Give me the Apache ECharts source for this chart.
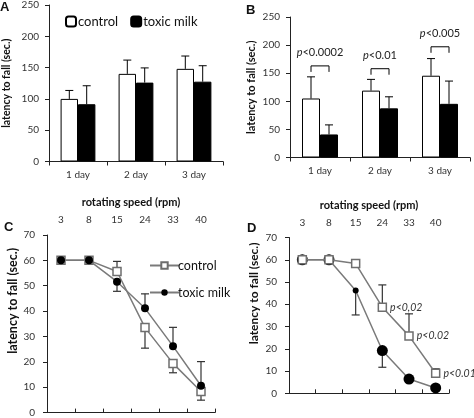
<!DOCTYPE html>
<html><head><meta charset="utf-8">
<script src="https://cdn.jsdelivr.net/npm/echarts@6/dist/echarts.min.js"></script>
<style>html,body{margin:0;padding:0;background:#fff}#c{width:474px;height:418px}</style>
</head><body><div id="c"></div>
<script>
// ---------- data ----------
const days = ['1 day', '2 day', '3 day'];
const ctrlA = [100, 140, 148];
const ctrlAErr = [113.5, 162, 168.5];
const toxA = [91.5, 126, 127.5];
const toxAErr = [121, 149.5, 153];

const ctrlB = [105, 119, 145.5];
const ctrlBErr = [143.5, 139, 176];
const toxB = [41, 87.5, 95.5];
const toxBErr = [58, 108, 136];
const pB = ['p<0.0002', 'p<0.01', 'p<0.005'];
const bracketB = [163, 158, 197];

const speeds = ['3', '8', '15', '24', '33', '40'];
const ctrlC = [60, 60, 55.6, 33.5, 19.4, 8.3];
const ctrlCErr = [null, null, 59.6, 25.4, 15.7, 4.9];
const toxC = [60, 60, 51.6, 41.1, 26.2, 10.6];
const toxCErr = [null, null, 47.8, 46.8, 33.6, 20.1];

const ctrlD = [60, 60, 58.3, 38.7, 25.8, 9];
const ctrlDErr = [null, null, null, 48.7, 35.7, 11];
const toxD = [60, 60, 46.2, 19.2, 6.4, 2.4];
const toxDErr = [null, null, 35.2, 11.7, null, null];
const pD = [null, null, null, 'p<0,02', 'p<0.02', 'p<0.01'];

const yTitle = 'latency to fall (sec.)';
const xTitle = 'rotating speed (rpm)';

// ---------- chart ----------
const FONT = 'Lato';
const chart = echarts.init(document.getElementById('c'), null, {renderer: 'canvas'});

function barErr(params, api) {
  const ci = api.value(0), v = api.value(1), e = api.value(2), side = api.value(3);
  const band = api.size([1, 0])[0];
  const c = api.coord([ci, v]);
  const ce = api.coord([ci, e]);
  const x = c[0] + side * 0.15 * band;
  return {type: 'group', children: [
    {type: 'line', shape: {x1: x, y1: c[1], x2: x, y2: ce[1]}, style: {stroke: '#000', lineWidth: 1}},
    {type: 'line', shape: {x1: x - 4, y1: ce[1], x2: x + 4, y2: ce[1]}, style: {stroke: '#000', lineWidth: 1}}
  ]};
}
function lineErr(params, api) {
  const ci = api.value(0), v = api.value(1), e = api.value(2);
  const c = api.coord([ci, v]);
  const ce = api.coord([ci, e]);
  return {type: 'group', children: [
    {type: 'line', shape: {x1: c[0], y1: c[1], x2: c[0], y2: ce[1]}, style: {stroke: '#333', lineWidth: 1.2}},
    {type: 'line', shape: {x1: c[0] - 4, y1: ce[1], x2: c[0] + 4, y2: ce[1]}, style: {stroke: '#333', lineWidth: 1.2}}
  ]};
}
function bracket(params, api) {
  const ci = api.value(0), v = api.value(1);
  const band = api.size([1, 0])[0];
  const c = api.coord([ci, v]);
  const x1 = c[0] - 0.15 * band, x2 = c[0] + 0.15 * band;
  return {type: 'group', children: [
    {type: 'polyline', shape: {points: [[x1, c[1] + 6], [x1, c[1]], [x2, c[1]], [x2, c[1] + 6]]},
      style: {stroke: '#000', lineWidth: 1, fill: null}},
    {type: 'text', style: {x: c[0], y: c[1] - 13, text: '{i|p}' + pB[params.dataIndex].slice(1),
      align: 'center', verticalAlign: 'middle', fontFamily: FONT, fontSize: 11, fill: '#222',
      rich: {i: {fontStyle: 'italic', fontFamily: FONT, fontSize: 11, fill: '#222'}}}}
  ]};
}
function errData(vals, errs, side) {
  const out = [];
  vals.forEach((v, i) => { if (errs[i] != null) out.push(side === undefined ? [i, v, errs[i]] : [i, v, errs[i], side]); });
  return out;
}

const axisLineStyle = {lineStyle: {color: '#222', width: 1}};
const tickStyle = {show: true, length: 4, lineStyle: {color: '#222'}};
const lblStyle = {fontFamily: FONT, fontSize: 10, color: '#333'};

function valAxis(grid, max, interval, margin, nameGap, nameSize, shift) {
  return {type: 'value', gridIndex: grid, min: 0, max: max, interval: interval,
    axisLine: Object.assign({show: true}, axisLineStyle), axisTick: tickStyle,
    splitLine: {show: false}, axisLabel: Object.assign({margin: margin}, lblStyle),
    name: yTitle, nameLocation: 'middle', nameGap: nameGap,
    nameTextStyle: {fontFamily: FONT, fontWeight: 'bold', fontSize: nameSize, color: '#111', padding: [0, 0, 0, shift]}};
}
function catAxisBottom(grid) {
  return {type: 'category', gridIndex: grid, data: days, axisLine: axisLineStyle, axisTick: tickStyle,
    axisLabel: Object.assign({margin: 8}, lblStyle)};
}
function catAxisTop(grid) {
  return {type: 'category', gridIndex: grid, data: speeds, position: 'top', axisLine: axisLineStyle,
    axisTick: tickStyle, axisLabel: Object.assign({margin: 10}, lblStyle),
    name: xTitle, nameLocation: 'middle', nameGap: 27,
    nameTextStyle: {fontFamily: FONT, fontWeight: 'bold', fontSize: 11, color: '#111'}};
}

const lineGray = '#7a7a7a';

const option = {
  animation: false,
  backgroundColor: '#fff',
  textStyle: {fontFamily: FONT},
  grid: [
    {left: 48, top: 4, width: 175, height: 157.5},
    {left: 290, top: 17, width: 180, height: 140.5},
    {left: 47, top: 235, width: 168, height: 177.6},
    {left: 289, top: 237.5, width: 160, height: 155.8}
  ],
  xAxis: [catAxisBottom(0), catAxisBottom(1), catAxisTop(2), catAxisTop(3)],
  yAxis: [
    valAxis(0, 250, 50, 10, 37, 10.5, 0),
    valAxis(1, 250, 50, 10, 33, 11, 0),
    valAxis(2, 70, 10, 12, 26, 12.5, 46),
    valAxis(3, 70, 10, 12, 29, 12, 44)
  ],
  legend: [
    {left: 60, top: 10, itemWidth: 10, itemHeight: 10, itemGap: 12, data: ['control', 'toxic milk'],
      textStyle: {fontFamily: FONT, fontSize: 13, color: '#111', padding: [0, 0, 0, -3]}},
    {left: 144, top: 254, orient: 'vertical', itemWidth: 29, itemHeight: 8, itemGap: 14,
      data: ['control ', 'toxic milk '], formatter: n => n.trim(),
      textStyle: {fontFamily: FONT, fontSize: 12.5, color: '#111', padding: [0, 0, 0, -6]}}
  ],
  graphic: [
    {type: 'text', left: 0, top: 1, style: {text: 'A', font: 'bold 13px "Liberation Sans"', fill: '#111'}},
    {type: 'text', left: 246, top: 4, style: {text: 'B', font: 'bold 13px "Liberation Sans"', fill: '#111'}},
    {type: 'text', left: 4, top: 221, style: {text: 'C', font: 'bold 13px "Liberation Sans"', fill: '#111'}},
    {type: 'text', left: 247, top: 222, style: {text: 'D', font: 'bold 13px "Liberation Sans"', fill: '#111'}}
  ],
  series: [
    // A
    {name: 'control', type: 'bar', xAxisIndex: 0, yAxisIndex: 0, data: ctrlA, barGap: '0%', barCategoryGap: '40%',
      itemStyle: {color: '#fff', borderColor: '#000', borderWidth: 1}},
    {name: 'toxic milk', type: 'bar', xAxisIndex: 0, yAxisIndex: 0, data: toxA, barGap: '0%', barCategoryGap: '40%',
      itemStyle: {color: '#000', borderColor: '#000', borderWidth: 1}},
    {name: 'A err c', type: 'custom', xAxisIndex: 0, yAxisIndex: 0, renderItem: barErr, data: errData(ctrlA, ctrlAErr, -1), z: 3},
    {name: 'A err t', type: 'custom', xAxisIndex: 0, yAxisIndex: 0, renderItem: barErr, data: errData(toxA, toxAErr, 1), z: 3},
    // B
    {name: 'B control', type: 'bar', xAxisIndex: 1, yAxisIndex: 1, data: ctrlB, barGap: '0%', barCategoryGap: '40%',
      itemStyle: {color: '#fff', borderColor: '#000', borderWidth: 1}},
    {name: 'B toxic milk', type: 'bar', xAxisIndex: 1, yAxisIndex: 1, data: toxB, barGap: '0%', barCategoryGap: '40%',
      itemStyle: {color: '#000', borderColor: '#000', borderWidth: 1}},
    {name: 'B err c', type: 'custom', xAxisIndex: 1, yAxisIndex: 1, renderItem: barErr, data: errData(ctrlB, ctrlBErr, -1), z: 3},
    {name: 'B err t', type: 'custom', xAxisIndex: 1, yAxisIndex: 1, renderItem: barErr, data: errData(toxB, toxBErr, 1), z: 3},
    {name: 'B p', type: 'custom', xAxisIndex: 1, yAxisIndex: 1, renderItem: bracket, data: bracketB.map((v, i) => [i, v]), z: 3},
    // C
    {name: 'C err c', type: 'custom', xAxisIndex: 2, yAxisIndex: 2, renderItem: lineErr, data: errData(ctrlC, ctrlCErr), z: 1},
    {name: 'C err t', type: 'custom', xAxisIndex: 2, yAxisIndex: 2, renderItem: lineErr, data: errData(toxC, toxCErr), z: 1},
    {name: 'control ', type: 'line', xAxisIndex: 2, yAxisIndex: 2, data: ctrlC, symbol: 'rect', symbolSize: 8,
      lineStyle: {color: lineGray, width: 1.5}, itemStyle: {color: '#fff', borderColor: '#6e6e6e', borderWidth: 1.5}, z: 3},
    {name: 'toxic milk ', type: 'line', xAxisIndex: 2, yAxisIndex: 2, data: toxC, symbol: 'circle', symbolSize: 8,
      lineStyle: {color: lineGray, width: 1.5}, itemStyle: {color: '#000', borderColor: '#000', borderWidth: 0}, z: 4},
    // D
    {name: 'D err c', type: 'custom', xAxisIndex: 3, yAxisIndex: 3, renderItem: lineErr, data: errData(ctrlD, ctrlDErr), z: 1},
    {name: 'D err t', type: 'custom', xAxisIndex: 3, yAxisIndex: 3, renderItem: lineErr, data: errData(toxD, toxDErr), z: 1},
    {name: 'D toxic milk', type: 'line', xAxisIndex: 3, yAxisIndex: 3, data: toxD, symbol: 'circle',
      symbolSize: (v, p) => (p.dataIndex === 2 ? 6 : 11),
      lineStyle: {color: lineGray, width: 1.5}, itemStyle: {color: '#000', borderWidth: 0}, z: 3},
    {name: 'D control', type: 'line', xAxisIndex: 3, yAxisIndex: 3, symbol: 'rect', symbolSize: 8,
      data: ctrlD.map((v, i) => pD[i] ? {value: v, label: {show: true, position: 'right', distance: 3, formatter: pD[i],
        fontFamily: FONT, fontStyle: 'italic', fontSize: 10.5, color: '#333'}} : v),
      lineStyle: {color: lineGray, width: 1.5}, itemStyle: {color: '#fff', borderColor: '#6e6e6e', borderWidth: 1.5}, z: 4}
  ]
};
chart.setOption(option);
</script></body></html>
